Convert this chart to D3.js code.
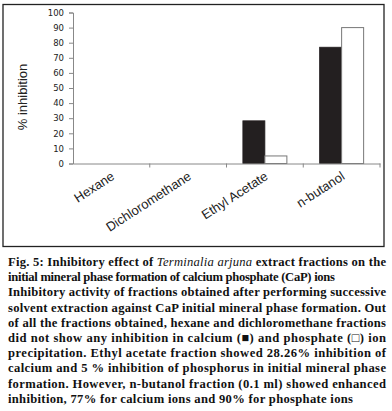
<!DOCTYPE html>
<html><head><meta charset="utf-8">
<script src="https://cdn.jsdelivr.net/npm/d3@7"></script>
<style>body{margin:0;background:#fff}</style>
</head><body><svg id="c" width="392" height="411"></svg>
<script>
const categories = ["Hexane","Dichloromethane","Ethyl Acetate","n-butanol"];
const calcium = [0, 0, 28.26, 77];
const phosphate = [0, 0, 5, 90];
const yTicks = [0,10,20,30,40,50,60,70,80,90,100];
const captionLines = [
 {t:[["Fig. 5: Inhibitory effect of ",""],["Terminalia arjuna","i"],[" extract fractions on the",""]], w:378},
 {t:[["initial mineral phase formation of calcium phosphate (CaP) ions",""]], w:327},
 {t:[["Inhibitory activity of fractions obtained after performing successive",""]], w:378},
 {t:[["solvent extraction against CaP initial mineral phase formation. Out",""]], w:378},
 {t:[["of all the fractions obtained, hexane and dichloromethane fractions",""]], w:378},
 {t:[["did not show any inhibition in calcium (\u25A0) and phosphate (\u25A1) ion",""]], w:378},
 {t:[["precipitation. Ethyl acetate fraction showed 28.26% inhibition of",""]], w:378},
 {t:[["calcium and 5 % inhibition of phosphorus in initial mineral phase",""]], w:378},
 {t:[["formation. However, n-butanol fraction (0.1 ml) showed enhanced",""]], w:378},
 {t:[["inhibition, 77% for calcium ions and 90% for phosphate ions",""]], w:345}
];

const svg = d3.select("#c");
svg.append("rect").attr("x",3).attr("y",4.5).attr("width",381).attr("height",242)
  .attr("fill","none").attr("stroke","#222").attr("stroke-width",1.3);

const x0 = 73, x1 = 380, yTop = 12.5, yBot = 163.5;
const x = d3.scaleBand().domain(categories).range([x0,x1]).paddingInner(0).paddingOuter(0);
const y = d3.scaleLinear().domain([0,100]).range([yBot,yTop]);
const sub = d3.scaleBand().domain(["ca","p"]).range([0,44]);
const bw = 44;

const g = svg.append("g");
categories.forEach((c,i)=>{
  const bx = x(c) + (x.bandwidth()-bw)/2;
  if (calcium[i] > 0)
    g.append("rect").attr("x",bx+sub("ca")).attr("y",y(calcium[i]))
      .attr("width",sub.bandwidth()).attr("height",yBot-y(calcium[i]))
      .attr("fill","#231f20").attr("stroke","#231f20").attr("stroke-width",0.8);
  if (phosphate[i] > 0)
    g.append("rect").attr("x",bx+sub("p")).attr("y",y(phosphate[i]))
      .attr("width",sub.bandwidth()).attr("height",yBot-y(phosphate[i]))
      .attr("fill","#fff").attr("stroke","#777").attr("stroke-width",1);
});

// Y axis
const ya = svg.append("g").attr("transform",`translate(${x0},0)`)
  .call(d3.axisLeft(y).tickValues(yTicks).tickSize(4).tickPadding(5));
ya.select(".domain").attr("stroke","#888");
ya.selectAll(".tick line").attr("stroke","#888");
ya.selectAll("text").attr("font-family","DejaVu Sans").attr("font-size",8.5).attr("fill","#222");

// X axis
const xa = svg.append("g").attr("transform",`translate(0,${yBot})`)
  .call(d3.axisBottom(x).tickSize(0).tickFormat(""));
xa.select(".domain").attr("stroke","#888");
xa.selectAll(".tick").remove();
const bounds = categories.map(c=>x(c)+x.bandwidth());
xa.selectAll("line.bt").data(bounds).enter().append("line").attr("class","bt")
  .attr("x1",d=>d).attr("x2",d=>d).attr("y1",0).attr("y2",4).attr("stroke","#888");

// Category labels
svg.append("g").selectAll("text").data(categories).enter().append("text")
  .attr("transform",d=>`translate(${x(d)+x.bandwidth()/2+4},${yBot+15}) rotate(-33)`)
  .attr("text-anchor","end")
  .attr("font-family","Liberation Sans, Arial").attr("font-size",13).attr("fill","#222")
  .text(d=>d);

// Y label
svg.append("text").attr("transform","translate(27,97) rotate(-90)")
  .attr("text-anchor","middle").attr("font-family","Liberation Sans, Arial")
  .attr("font-size",13).attr("fill","#222").text("% inhibition");

// Caption
const cap = svg.append("g");
captionLines.forEach((ln,i)=>{
  const t = cap.append("text").attr("x",8).attr("y",266+i*15.2)
    .attr("font-family","Liberation Serif, serif").attr("font-weight","bold")
    .attr("font-size",12.6).attr("fill","#111").attr("xml:space","preserve");
  ln.t.forEach(([s,st])=>{
    const sp = t.append("tspan").text(s);
    if (st==="i") sp.attr("font-style","italic").attr("font-weight","normal");
  });
  t.attr("textLength",ln.w).attr("lengthAdjust","spacing");
});
</script></body></html>
